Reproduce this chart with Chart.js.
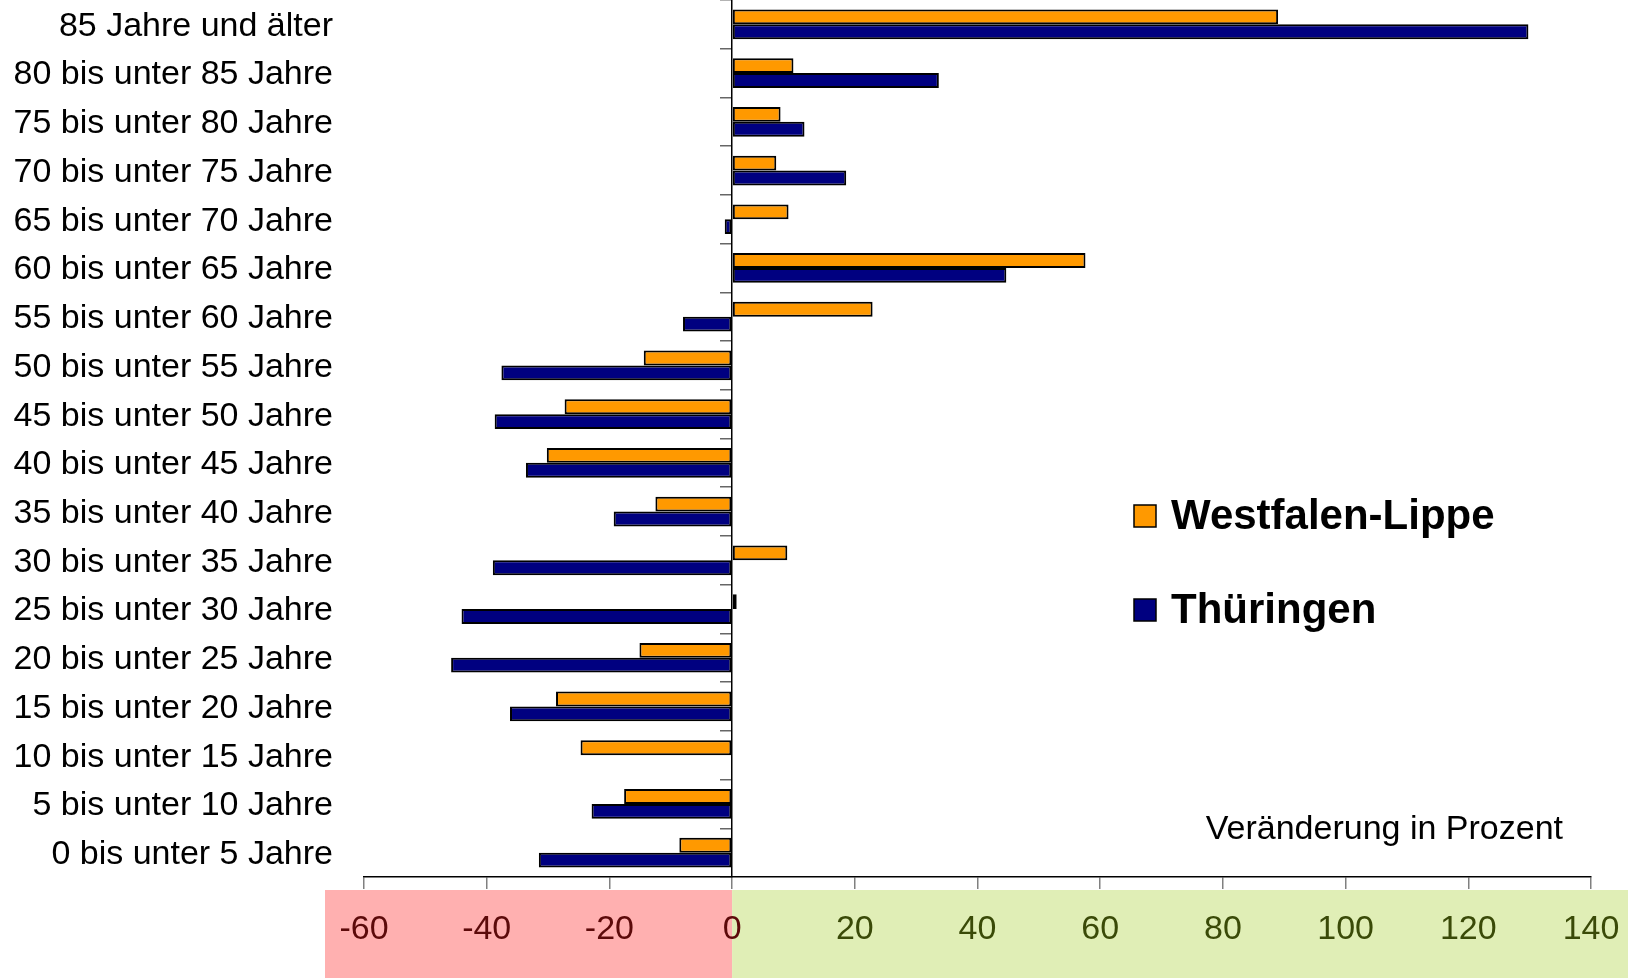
<!DOCTYPE html>
<html><head><meta charset="utf-8">
<script src="https://cdn.jsdelivr.net/npm/chart.js@4.4.1/dist/chart.umd.min.js"></script>
<style>html,body{margin:0;padding:0;background:#fff;overflow:hidden}</style>
</head><body>
<canvas id="c" width="1628" height="978"></canvas>
<script>
const categories = [
  "85 Jahre und älter","80 bis unter 85 Jahre","75 bis unter 80 Jahre","70 bis unter 75 Jahre",
  "65 bis unter 70 Jahre","60 bis unter 65 Jahre","55 bis unter 60 Jahre","50 bis unter 55 Jahre",
  "45 bis unter 50 Jahre","40 bis unter 45 Jahre","35 bis unter 40 Jahre","30 bis unter 35 Jahre",
  "25 bis unter 30 Jahre","20 bis unter 25 Jahre","15 bis unter 20 Jahre","10 bis unter 15 Jahre",
  "5 bis unter 10 Jahre","0 bis unter 5 Jahre"
];
const westfalenLippe = [89.0, 10.0, 7.9, 7.2, 9.2, 57.6, 22.9, -14.4, -27.3, -30.2, -12.5, 9.0, 0.75, -15.1, -28.7, -24.7, -17.6, -8.6];
const thueringen     = [129.8, 33.7, 11.8, 18.6, -1.2, 44.7, -8.0, -37.6, -38.7, -33.6, -19.3, -39.0, -44.1, -45.8, -36.2, 0, -22.9, -31.5];
const seriesNames = ["Westfalen-Lippe", "Thüringen"];
const seriesColors = ["#FF9900", "#000080"];
const xMin = -60, xMax = 140, xStep = 20;
const axisNote = "Veränderung in Prozent";

const FONT = "'Liberation Sans', Arial, sans-serif";

const decorPlugin = {
  id: 'decor',
  beforeDraw(chart) {
    const {ctx, chartArea} = chart;
    const x = chart.scales.x;
    const zero = x.getPixelForValue(0);
    const top = chartArea.bottom + 13;
    ctx.save();
    ctx.fillStyle = '#FFB0B0';
    ctx.fillRect(x.left - 39, top, zero - (x.left - 39), chart.height - top);
    ctx.fillStyle = '#E0EEB6';
    ctx.fillRect(zero, top, chart.width - zero, chart.height - top);
    ctx.restore();
  },
  afterDraw(chart) {
    const {ctx} = chart;
    ctx.save();
    const rows = [516, 610];
    chart.data.datasets.forEach((ds, i) => {
      const cy = rows[i];
      ctx.fillStyle = ds.backgroundColor;
      ctx.fillRect(1134, cy - 11, 22, 22);
      ctx.strokeStyle = '#000';
      ctx.lineWidth = 1.5;
      ctx.strokeRect(1134, cy - 11, 22, 22);
      ctx.fillStyle = '#000';
      ctx.font = "bold 42px " + FONT;
      ctx.textBaseline = 'middle';
      ctx.textAlign = 'left';
      ctx.fillText(ds.label, 1171, cy + 1);
    });
    ctx.font = "34px " + FONT;
    ctx.fillStyle = '#000';
    ctx.textAlign = 'right';
    ctx.textBaseline = 'middle';
    ctx.fillText(axisNote, 1563, 830);
    ctx.restore();
  }
};

new Chart(document.getElementById('c'), {
  type: 'bar',
  data: {
    labels: categories,
    datasets: [
      {label: seriesNames[0], data: westfalenLippe, backgroundColor: seriesColors[0], borderColor: '#000', borderWidth: 2, borderSkipped: false, xAxisID: 'x', yAxisID: 'y'},
      {label: seriesNames[1], data: thueringen, backgroundColor: seriesColors[1], borderColor: '#000', borderWidth: 2, borderSkipped: false, xAxisID: 'x', yAxisID: 'y'}
    ]
  },
  options: {
    indexAxis: 'y',
    responsive: false,
    animation: false,
    devicePixelRatio: 1,
    layout: {padding: {left: 0, top: 0, right: 37, bottom: 0}},
    datasets: {bar: {categoryPercentage: 0.61, barPercentage: 1.0}},
    plugins: {legend: {display: false}, tooltip: {enabled: false}},
    scales: {
      x: {
        type: 'linear', position: 'bottom', min: xMin, max: xMax,
        ticks: {
          stepSize: xStep, padding: 20,
          font: {family: FONT, size: 34},
          color: (c) => c.tick && c.tick.value <= 0 ? '#5C0A0A' : '#3A4A08'
        },
        grid: {drawOnChartArea: false, drawTicks: true, tickLength: 12, color: '#808080', lineWidth: 1.5},
        border: {display: true, color: '#000', width: 1.5},
        afterFit: (s) => { s.height = 101; s.paddingLeft = 0; s.paddingRight = 0; }
      },
      y: {
        type: 'category', position: 'left', offset: true,
        ticks: {font: {family: FONT, size: 34}, color: '#000', padding: 23, labelOffset: 2},
        grid: {display: false},
        border: {display: false},
        afterFit: (s) => { s.width = 364; s.paddingTop = 0; s.paddingBottom = 0; }
      },
      y0: {
        type: 'category', axis: 'y', labels: categories, offset: true,
        position: {x: 0},
        ticks: {display: false},
        grid: {offset: true, drawOnChartArea: false, drawTicks: true, tickLength: 11, color: '#666666', lineWidth: 1.5},
        border: {display: true, color: '#000', width: 1.5},
        afterFit: (s) => { s.width = 0; s.paddingTop = 0; s.paddingBottom = 0; }
      }
    }
  },
  plugins: [decorPlugin]
});
</script>
</body></html>
